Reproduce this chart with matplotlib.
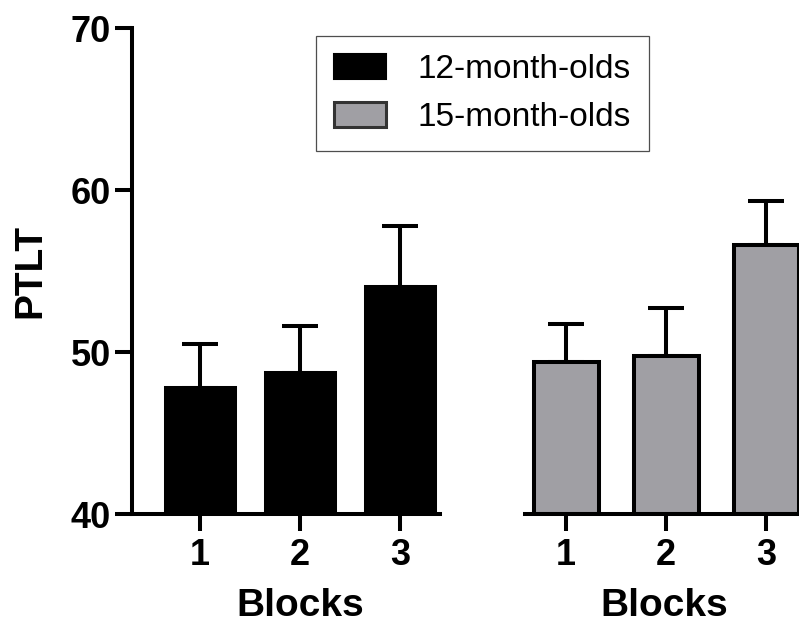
import matplotlib
matplotlib.use('Agg')
import matplotlib.pyplot as plt
from matplotlib.patches import Patch

plt.rcParams['font.family'] = ['Liberation Sans', 'DejaVu Sans']

blocks = ['1', '2', '3']
mean12 = [47.8, 48.7, 54.0]
sem12 = [2.7, 2.9, 3.8]
mean15 = [49.4, 49.75, 56.6]
sem15 = [2.3, 2.95, 2.7]
labels = ['12-month-olds', '15-month-olds']
col12 = 'black'
col15 = '#a09fa4'

W, H = 799, 623
fig = plt.figure(figsize=(W / 100, H / 100), dpi=100)
bot = (H - 514) / H
hgt = (514 - 28) / H

# left panel (has the y axis), right panel (no y axis)
axL = fig.add_axes([132 / W, bot, 308 / W, hgt])
axR = fig.add_axes([525 / W, bot, 274 / W, hgt])

lw = 2.9
pos = [1, 2, 3]
for ax, m, e, c, xl, bw in [(axL, mean12, sem12, col12, (0.32, 3.4), 0.69),
                             (axR, mean15, sem15, col15, (0.59, 3.33), 0.65)]:
    ax.errorbar(pos, m, yerr=[[0] * 3, e], fmt='none', ecolor='black',
                elinewidth=lw, capsize=13, capthick=lw, zorder=1)
    ax.bar(pos, [v - 40 for v in m], bottom=40, width=bw, color=c,
           edgecolor='black', linewidth=lw, zorder=2)
    ax.set_xlim(*xl)
    ax.set_ylim(40, 70)
    ax.set_xticks(pos)
    ax.set_xticklabels(blocks, fontsize=26, fontweight='bold')
    ax.set_xlabel('Blocks', fontsize=28, fontweight='bold')
    for s in ['top', 'right']:
        ax.spines[s].set_visible(False)
    ax.spines['bottom'].set_linewidth(lw)
    ax.spines['left'].set_linewidth(lw)
    ax.tick_params(axis='x', length=12, width=lw, pad=5)
    ax.patch.set_visible(False)

axL.xaxis.set_label_coords(0.545, -0.153)
axR.xaxis.set_label_coords(0.51, -0.153)

axL.set_yticks([40, 50, 60, 70])
axL.set_yticklabels(['40', '50', '60', '70'], fontsize=26, fontweight='bold')
axL.tick_params(axis='y', length=12, width=lw, pad=3)
axL.set_ylabel('PTLT', fontsize=28, fontweight='bold', labelpad=16)

axR.spines['left'].set_visible(False)
axR.set_yticks([])

handles = [Patch(facecolor=col12, edgecolor='black', linewidth=1.5),
           Patch(facecolor=col15, edgecolor='#333333', linewidth=2.2)]
leg = fig.legend(handles, labels, loc='upper left',
                 bbox_to_anchor=(316 / W, 1 - 36 / H), borderaxespad=0,
                 fontsize=24, frameon=True, fancybox=False,
                 handlelength=1.55, handleheight=0.76, handletextpad=0.95,
                 labelspacing=0.5, borderpad=0.55)
leg.get_frame().set_edgecolor('#222222')
leg.get_frame().set_linewidth(0.9)

plt.savefig('out.png', dpi=100)
